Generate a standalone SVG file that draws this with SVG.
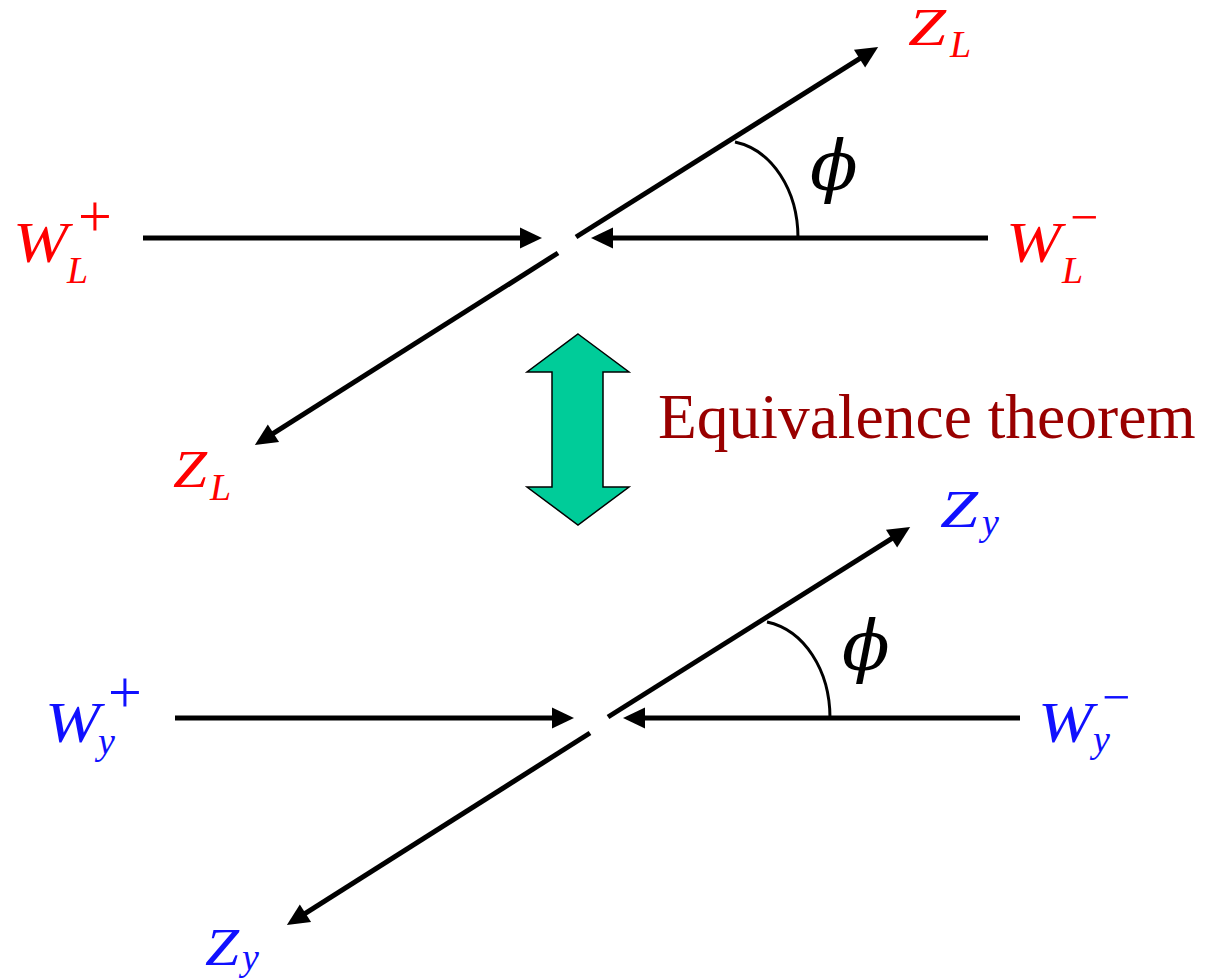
<svg xmlns="http://www.w3.org/2000/svg" width="1207" height="978" viewBox="0 0 1207 978">
<style>
.ln{stroke:#000;stroke-width:5;fill:none}
.arc{stroke:#000;stroke-width:3;fill:none}
.m{font-family:"Liberation Serif",serif;font-style:italic}
.u{font-family:"Liberation Serif",serif}
.red{fill:#ff0000}
.blue{fill:#1010ff}
.phi{font-family:"DejaVu Serif",serif;font-style:italic;font-size:70px;fill:#000}
</style>
<defs>
<marker id="ah" markerUnits="userSpaceOnUse" markerWidth="24" markerHeight="22" viewBox="0 -11 22 22" refX="10" refY="0" orient="auto">
<path d="M0,-10.5 L22,0 L0,10.5 z" fill="#000"/>
</marker>
</defs>
<rect width="1207" height="978" fill="#fff"/>

<g id="connectors">
<g id="top-diagram">
<line class="ln" x1="143" y1="238" x2="530" y2="238" marker-end="url(#ah)"/>
<line class="ln" x1="988" y1="238" x2="603" y2="238" marker-end="url(#ah)"/>
<line class="ln" x1="576" y1="237" x2="868" y2="53.3" marker-end="url(#ah)"/>
<line class="ln" x1="558" y1="253" x2="265" y2="438.6" marker-end="url(#ah)"/>
<path class="arc" d="M735,142 C772,150 798,190 798,238"/>
</g>
<g id="bottom-diagram" transform="translate(32,480)">
<line class="ln" x1="143" y1="238" x2="530" y2="238" marker-end="url(#ah)"/>
<line class="ln" x1="988" y1="238" x2="603" y2="238" marker-end="url(#ah)"/>
<line class="ln" x1="576" y1="237" x2="868" y2="53.3" marker-end="url(#ah)"/>
<line class="ln" x1="558" y1="253" x2="265" y2="438.6" marker-end="url(#ah)"/>
<path class="arc" d="M735,142 C772,150 798,190 798,238"/>
</g>
</g>

<g id="double-arrow">
<polygon points="578,334 629,372 603,372 603,487 629,487 578,525 527,487 552,487 552,372 527,372" fill="#00cc99" stroke="#000" stroke-width="1.5" stroke-linejoin="miter"/>
</g>

<g id="equivalence-label">
<text x="658" y="438" font-family="Liberation Serif, serif" font-size="63.5" fill="#990000">Equivalence theorem</text>
</g>

<g id="phi-top"><text class="phi" x="810" y="190">ϕ</text></g>
<g id="phi-bottom"><text class="phi" x="842" y="670">ϕ</text></g>

<g id="WLplus" class="red">
<text class="m" x="13" y="262" font-size="57" textLength="55" lengthAdjust="spacingAndGlyphs">W</text>
<text class="m" x="67" y="283" font-size="38">L</text>
<text class="u" x="78" y="236" font-size="60">+</text>
</g>
<g id="WLminus" class="red">
<text class="m" x="1006" y="262" font-size="57" textLength="55" lengthAdjust="spacingAndGlyphs">W</text>
<text class="m" x="1062" y="283" font-size="38">L</text>
<text class="u" x="1070" y="234" font-size="50">−</text>
</g>
<g id="ZLtop" class="red">
<text class="m" x="908" y="45" font-size="52" textLength="38" lengthAdjust="spacingAndGlyphs">Z</text>
<text class="m" x="950" y="57" font-size="38">L</text>
</g>
<g id="ZLbottom" class="red">
<text class="m" x="173" y="487" font-size="52" textLength="34" lengthAdjust="spacingAndGlyphs">Z</text>
<text class="m" x="210" y="500" font-size="38">L</text>
</g>

<g id="Wyplus" class="blue">
<text class="m" x="45" y="742" font-size="57" textLength="55" lengthAdjust="spacingAndGlyphs">W</text>
<text class="m" x="98" y="754" font-size="38">y</text>
<text class="u" x="108" y="712" font-size="60">+</text>
</g>
<g id="Wyminus" class="blue">
<text class="m" x="1038" y="742" font-size="57" textLength="55" lengthAdjust="spacingAndGlyphs">W</text>
<text class="m" x="1093" y="752" font-size="38">y</text>
<text class="u" x="1102" y="714" font-size="50">−</text>
</g>
<g id="Zytop" class="blue">
<text class="m" x="940" y="527" font-size="52" textLength="38" lengthAdjust="spacingAndGlyphs">Z</text>
<text class="m" x="982" y="535" font-size="38">y</text>
</g>
<g id="Zybottom" class="blue">
<text class="m" x="205" y="965" font-size="52" textLength="34" lengthAdjust="spacingAndGlyphs">Z</text>
<text class="m" x="242" y="970" font-size="38">y</text>
</g>
</svg>
